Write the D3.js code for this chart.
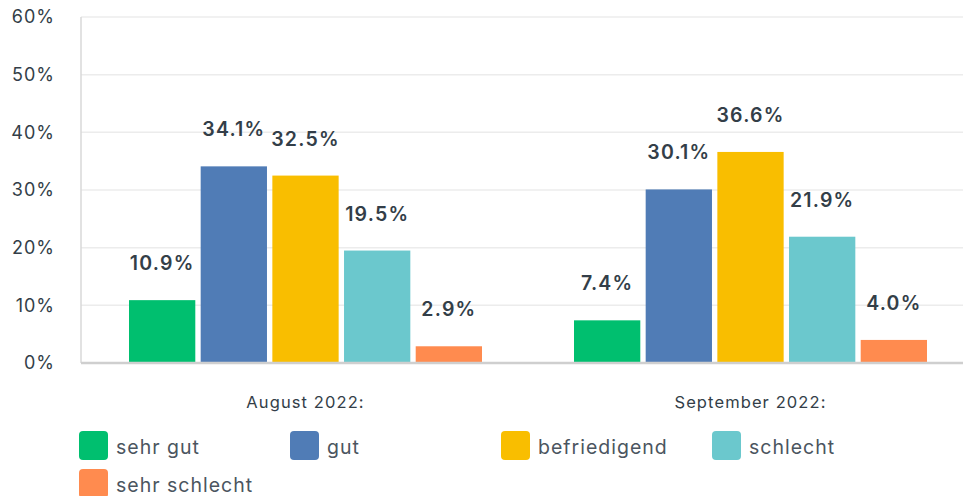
<!DOCTYPE html>
<html>
<head>
<meta charset="utf-8">
<script src="https://cdn.jsdelivr.net/npm/d3@7"></script>
<style>
  body { margin: 0; background: #fff; }
  svg { font-family: Inter, sans-serif; }
</style>
</head>
<body>
<svg id="chart"></svg>
<script>
const groups = ['August 2022:', 'September 2022:'];
const categories = ['sehr gut', 'gut', 'befriedigend', 'schlecht', 'sehr schlecht'];
const colors = ['#00bf6f', '#507cb6', '#f9be00', '#6bc8cd', '#ff8b4f'];
const august = [10.9, 34.1, 32.5, 19.5, 2.9];
const september = [7.4, 30.1, 36.6, 21.9, 4.0];
const yTicks = [0, 10, 20, 30, 40, 50, 60];

const width = 963, height = 496;
const margin = { top: 17, right: -8, bottom: 133, left: 81 };
const w = width - margin.left - margin.right;
const h = height - margin.top - margin.bottom;

const svg = d3.select('#chart')
  .attr('width', width)
  .attr('height', height);

const g = svg.append('g')
  .attr('transform', `translate(${margin.left},${margin.top})`);

const x0 = d3.scaleBand().domain(groups).range([0, w]);
const x1 = d3.scaleBand().domain(categories)
  .range([48, x0.bandwidth() - 44])
  .paddingInner(0.075);
const y = d3.scaleLinear().domain([0, 60]).range([h, 0]);

// grid
g.append('g')
  .selectAll('line')
  .data(yTicks)
  .enter().append('line')
  .attr('x1', 0)
  .attr('x2', w)
  .attr('y1', d => y(d))
  .attr('y2', d => y(d))
  .attr('stroke', '#ececec')
  .attr('stroke-width', 1.5);

// y labels
g.append('g')
  .selectAll('text')
  .data(yTicks)
  .enter().append('text')
  .attr('x', -26)
  .attr('y', d => y(d))
  .attr('dy', '0.35em')
  .attr('text-anchor', 'end')
  .attr('fill', '#333e48')
  .style('font-size', '18px')
  .style('letter-spacing', '1px')
  .text(d => d + '%');

// left axis line
g.append('line')
  .attr('x1', 0).attr('x2', 0)
  .attr('y1', 0).attr('y2', h)
  .attr('stroke', '#d8d8d8')
  .attr('stroke-width', 1.5);

const series = [august, september];
const group = g.selectAll('.grp')
  .data(groups)
  .enter().append('g')
  .attr('class', 'grp')
  .attr('transform', d => `translate(${x0(d)},0)`);

const bars = group.selectAll('.bar')
  .data((d, i) => categories.map((c, j) => ({ c, v: series[i][j], col: colors[j] })))
  .enter();

bars.append('rect')
  .attr('x', d => x1(d.c))
  .attr('width', x1.bandwidth())
  .attr('y', d => y(d.v))
  .attr('height', d => h - y(d.v))
  .attr('fill', d => d.col);

bars.append('text')
  .attr('x', d => x1(d.c) + x1.bandwidth() / 2)
  .attr('y', d => y(d.v) - 30)
  .attr('text-anchor', 'middle')
  .attr('fill', '#333e48')
  .style('font-size', '19.5px')
  .style('font-weight', '600')
  .style('letter-spacing', '1.2px')
  .text(d => d.v.toFixed(1) + '%');

// bottom axis line
g.append('line')
  .attr('x1', 0).attr('x2', w)
  .attr('y1', h).attr('y2', h)
  .attr('stroke', '#cfcfcf')
  .attr('stroke-width', 2.5);

// group labels
g.selectAll('.glabel')
  .data(groups)
  .enter().append('text')
  .attr('x', d => x0(d) + 48 + (x0.bandwidth() - 92) / 2)
  .attr('y', h + 45)
  .attr('text-anchor', 'middle')
  .attr('fill', '#333e48')
  .style('font-size', '16.5px')
  .style('letter-spacing', '1.1px')
  .text(d => d);

// legend
const legend = svg.append('g')
  .selectAll('g')
  .data(categories)
  .enter().append('g')
  .attr('transform', (d, i) => `translate(${79 + (i % 4) * 211},${431 + Math.floor(i / 4) * 38})`);

legend.append('rect')
  .attr('width', 29)
  .attr('height', 29)
  .attr('rx', 4)
  .attr('fill', (d, i) => colors[i]);

legend.append('text')
  .attr('x', 37)
  .attr('y', 16)
  .attr('dy', '0.35em')
  .attr('fill', '#4b5560')
  .style('font-size', '19.5px')
  .style('letter-spacing', '1px')
  .text(d => d);
</script>
</body>
</html>
